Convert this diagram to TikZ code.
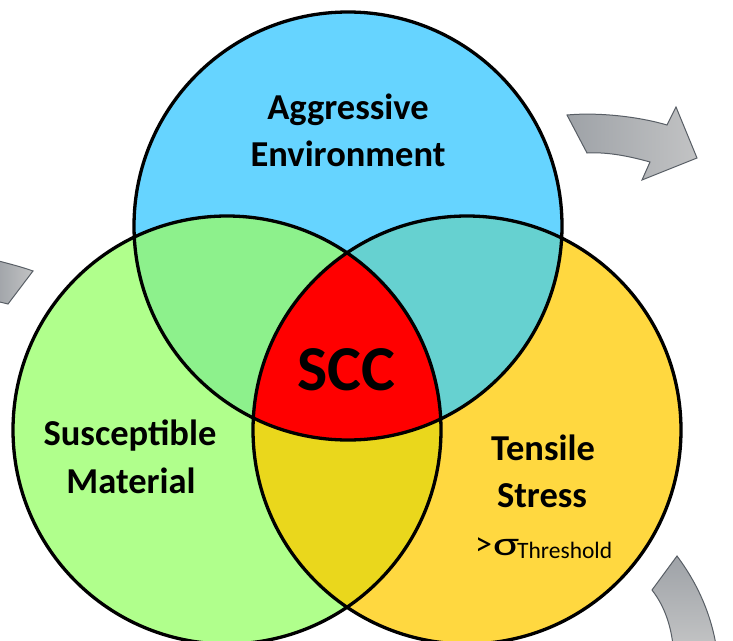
\documentclass[tikz,border=0pt]{standalone}
\usepackage{fontspec}
\setmainfont{Carlito}
\definecolor{cblue}{RGB}{102,212,255}
\definecolor{cgreen}{RGB}{176,255,140}
\definecolor{cyellow}{RGB}{255,216,64}
\definecolor{cbluegreen}{RGB}{141,241,140}
\definecolor{cblueyellow}{RGB}{102,209,208}
\definecolor{cgreenyellow}{RGB}{234,215,28}
\definecolor{ccore}{RGB}{255,0,0}
\definecolor{arrowdark}{RGB}{158,162,167}
\definecolor{arrowlight}{RGB}{194,195,196}
\definecolor{arrowedge}{RGB}{88,94,101}
\begin{document}
\begin{tikzpicture}[x=1pt,y=-1pt,
  ring/.style={draw=black,line width=3.3pt},
  biglabel/.style={font=\fontsize{36.5}{44}\selectfont\bfseries,anchor=base,inner sep=0pt},
  cycarrow/.style={draw=arrowedge,line width=1pt,line join=miter},
  cycarrowh/.style={cycarrow,left color=arrowdark,right color=arrowlight},
  cycarrowv/.style={cycarrow,top color=arrowdark,bottom color=arrowlight}]
\useasboundingbox (0,0) rectangle (733,640);
\clip (0,0) rectangle (733,640);

% circle centres
\coordinate (cT) at (348,226);
\coordinate (cL) at (227,430);
\coordinate (cR) at (467,430);

% single regions
\fill[cblue] (cT) circle[radius=214pt];
\fill[cgreen] (cL) circle[radius=214pt];
\fill[cyellow] (cR) circle[radius=214pt];
% pairwise overlaps
\begin{scope}
  \clip (cT) circle[radius=214pt];
  \fill[cbluegreen] (cL) circle[radius=214pt];
  \fill[cblueyellow] (cR) circle[radius=214pt];
\end{scope}
\begin{scope}
  \clip (cL) circle[radius=214pt];
  \fill[cgreenyellow] (cR) circle[radius=214pt];
\end{scope}
% triple overlap
\begin{scope}
  \clip (cT) circle[radius=214pt];
  \clip (cL) circle[radius=214pt];
  \fill[ccore] (cR) circle[radius=214pt];
\end{scope}
% outlines
\draw[ring] (cT) circle[radius=214pt];
\draw[ring] (cL) circle[radius=214pt];
\draw[ring] (cR) circle[radius=214pt];

% cycle arrows around the diagram
\draw[cycarrowh] (567,115) .. controls (600,112) and (640,117) .. (667,125)
  -- (676,107) -- (697,158) -- (642,180) -- (650,162)
  .. controls (625,155) and (605,152) .. (587,153) -- cycle;
\draw[cycarrowh] (-5,260) .. controls (10,264) and (22,267) .. (33,271)
  -- (8,304) .. controls (4,303) and (0,302) .. (-5,301) -- cycle;
\draw[cycarrowv] (677,556) .. controls (695,580) and (710,610) .. (716,645)
  -- (673,645) .. controls (670,620) and (662,603) .. (652,590) -- cycle;

% labels
\node[biglabel] (env1) at (348,119) {Aggressive};
\node[biglabel] (env2) at (348,166) {Environment};
\node[biglabel] (mat1) at (130,445) {Susceptible};
\node[biglabel] (mat2) at (131,493) {Material};
\node[biglabel] (str1) at (543,460) {Tensile};
\node[biglabel] (str2) at (542,507) {Stress};
\node[anchor=base west,inner sep=0pt,font=\fontsize{34}{36}\selectfont] (sig) at (475,555)
  {>\hspace{1pt}\scalebox{1.45}[1]{σ}};
\node[anchor=base west,inner sep=0pt,font=\fontsize{23.5}{26}\selectfont] (thr) at (517,558) {Threshold};
\node[anchor=base,inner sep=0pt,font=\fontsize{64}{70}\selectfont\bfseries] (scc) at (346,390) {SCC};
\end{tikzpicture}
\end{document}
